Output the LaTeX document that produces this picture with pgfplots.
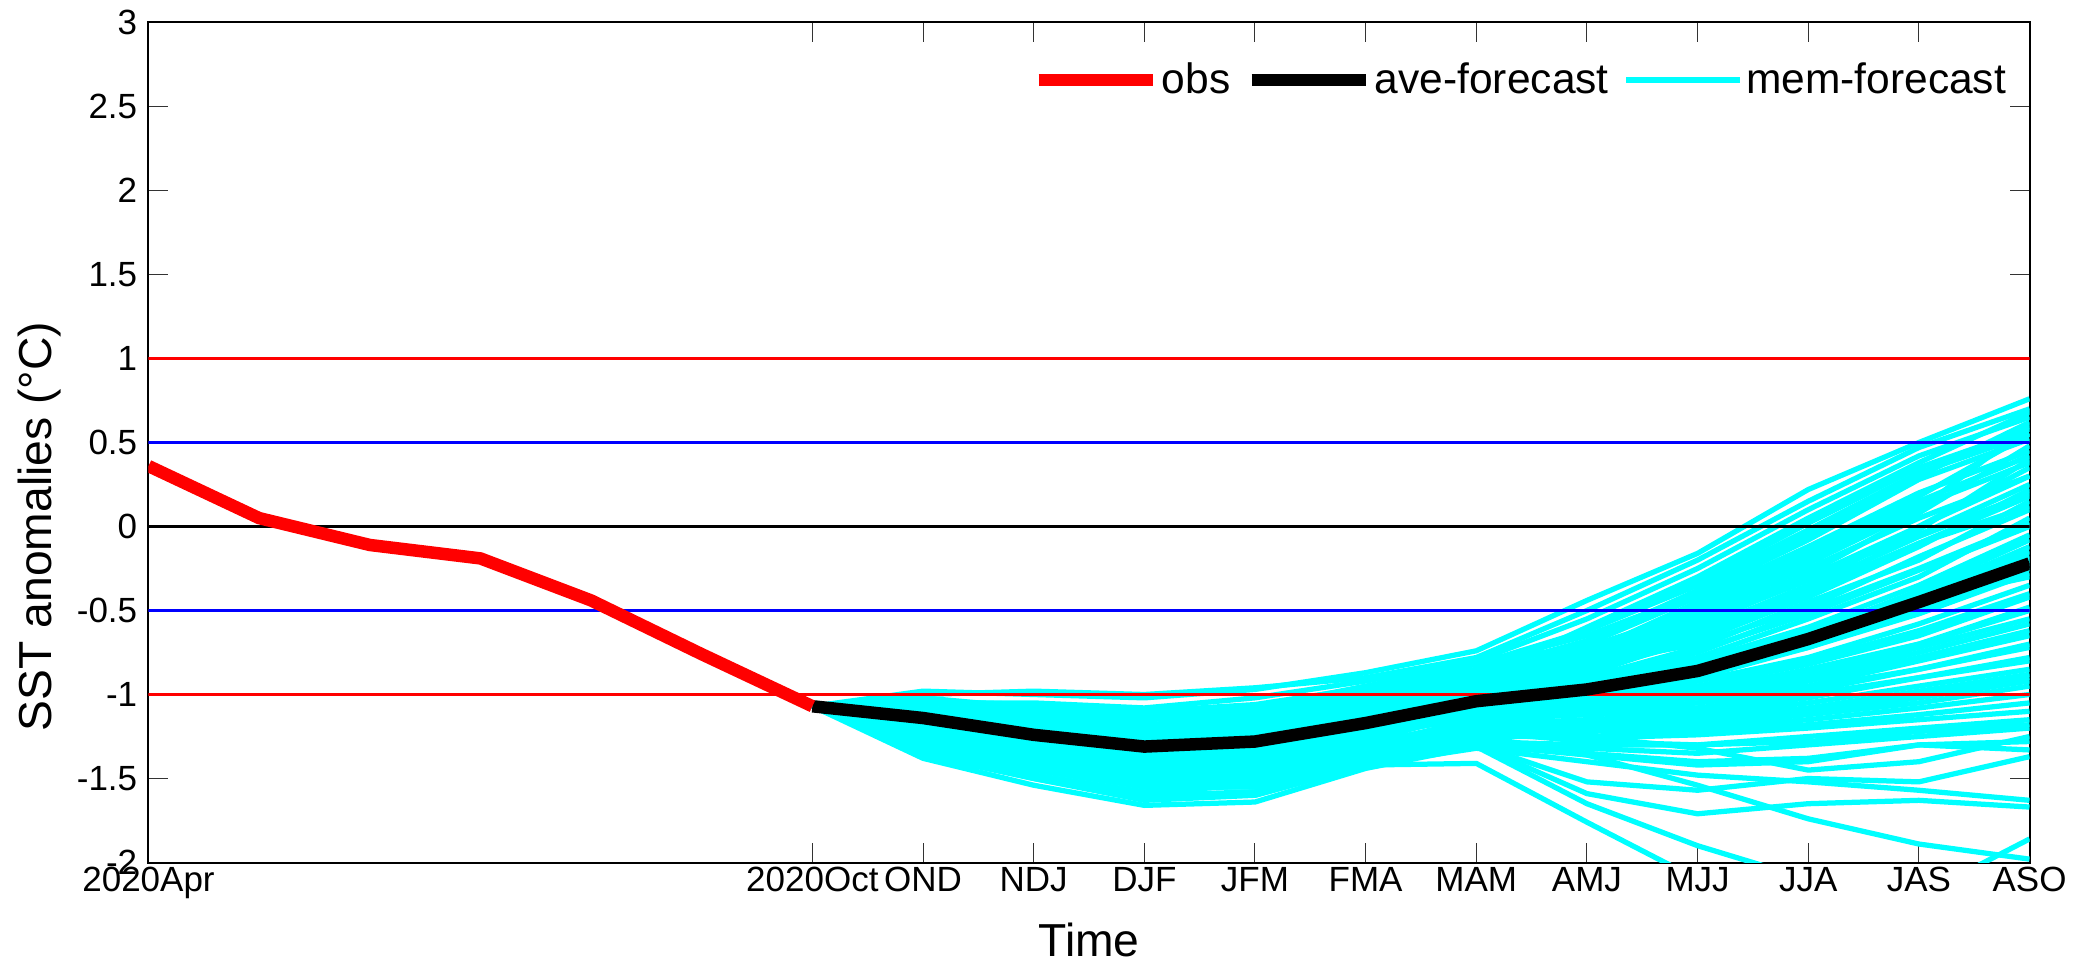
\documentclass[border=0pt]{standalone}
\usepackage{fontspec}
\setmainfont{Liberation Sans}
\usepackage{pgfplots}
\usepackage{pgfplotstable}
\pgfplotsset{compat=1.18}
\definecolor{memc}{RGB}{0,255,255}

% one row per ensemble member, steps 2020Oct .. ASO
\pgfplotstableread{
id v6 v7 v8 v9 v10 v11 v12 v13 v14 v15 v16 v17
m1 -1.07 -0.98 -1.00 -1.02 -0.97 -0.87 -0.74 -0.44 -0.16 0.22 0.50 0.76
m2 -1.07 -1.00 -0.98 -1.00 -0.96 -0.90 -0.78 -0.50 -0.20 0.15 0.47 0.70
m3 -1.07 -1.05 -1.05 -1.08 -1.02 -0.92 -0.80 -0.55 -0.25 0.10 0.42 0.65
m4 -1.07 -1.10 -1.12 -1.15 -1.10 -0.98 -0.85 -0.62 -0.33 0.02 0.35 0.58
m5 -1.07 -1.02 -1.08 -1.12 -1.08 -0.95 -0.82 -0.65 -0.40 -0.08 0.28 0.52
m6 -1.07 -1.12 -1.20 -1.25 -1.20 -1.05 -0.90 -0.70 -0.42 -0.12 0.20 0.45
m7 -1.07 -1.08 -1.15 -1.20 -1.18 -1.02 -0.88 -0.72 -0.50 -0.20 0.12 0.38
m8 -1.07 -1.15 -1.25 -1.30 -1.28 -1.12 -0.95 -0.78 -0.52 -0.25 0.05 0.30
m9 -1.07 -1.05 -1.10 -1.15 -1.12 -1.00 -0.86 -0.68 -0.38 -0.05 0.30 0.62
m10 -1.07 -1.10 -1.15 -1.22 -1.15 -1.02 -0.90 -0.60 -0.30 0.05 0.38 0.68
m11 -1.07 -1.15 -1.22 -1.28 -1.22 -1.08 -0.92 -0.75 -0.45 -0.15 0.18 0.55
m12 -1.07 -1.08 -1.12 -1.18 -1.15 -1.04 -0.92 -0.80 -0.55 -0.28 0.08 0.48
m13 -1.07 -1.20 -1.28 -1.35 -1.30 -1.15 -0.98 -0.82 -0.58 -0.32 -0.02 0.40
m14 -1.07 -1.12 -1.18 -1.22 -1.20 -1.10 -0.96 -0.85 -0.62 -0.35 0.00 0.35
m15 -1.07 -1.05 -1.10 -1.12 -1.10 -1.00 -0.88 -0.76 -0.50 -0.22 0.10 0.60
m16 -1.07 -1.12 -1.22 -1.30 -1.25 -1.10 -0.98 -0.85 -0.60 -0.30 -0.05 0.25
m17 -1.07 -1.18 -1.28 -1.35 -1.30 -1.15 -1.00 -0.88 -0.65 -0.38 -0.10 0.18
m18 -1.07 -1.10 -1.18 -1.28 -1.22 -1.08 -0.95 -0.82 -0.70 -0.48 -0.18 0.10
m19 -1.07 -1.20 -1.30 -1.38 -1.35 -1.20 -1.05 -0.92 -0.75 -0.50 -0.25 0.02
m20 -1.07 -1.15 -1.25 -1.32 -1.30 -1.15 -1.02 -0.95 -0.80 -0.60 -0.35 -0.05
m21 -1.07 -1.22 -1.35 -1.42 -1.40 -1.25 -1.08 -0.98 -0.82 -0.62 -0.40 -0.12
m22 -1.07 -1.10 -1.20 -1.25 -1.22 -1.12 -1.02 -0.96 -0.85 -0.70 -0.48 -0.20
m23 -1.07 -1.25 -1.38 -1.48 -1.45 -1.28 -1.10 -1.00 -0.90 -0.72 -0.52 -0.28
m24 -1.07 -1.18 -1.28 -1.36 -1.32 -1.20 -1.08 -1.02 -0.92 -0.78 -0.58 -0.35
m25 -1.07 -1.12 -1.22 -1.30 -1.28 -1.18 -1.05 -1.00 -0.95 -0.82 -0.65 -0.42
m26 -1.07 -1.28 -1.42 -1.52 -1.50 -1.32 -1.15 -1.05 -0.98 -0.85 -0.70 -0.50
m27 -1.07 -1.20 -1.32 -1.40 -1.38 -1.25 -1.12 -1.08 -1.00 -0.90 -0.75 -0.58
m28 -1.07 -1.16 -1.26 -1.34 -1.30 -1.18 -1.04 -0.93 -0.78 -0.55 -0.30 0.05
m29 -1.07 -1.22 -1.32 -1.40 -1.36 -1.22 -1.06 -0.96 -0.84 -0.66 -0.42 -0.15
m30 -1.07 -1.14 -1.24 -1.30 -1.28 -1.16 -1.03 -0.97 -0.88 -0.72 -0.50 -0.25
m31 -1.07 -1.10 -1.16 -1.22 -1.20 -1.12 -1.00 -0.90 -0.72 -0.45 -0.20 0.15
m32 -1.07 -1.18 -1.26 -1.32 -1.30 -1.20 -1.08 -1.00 -0.86 -0.64 -0.38 -0.08
m33 -1.07 -1.15 -1.25 -1.35 -1.32 -1.22 -1.10 -1.05 -1.02 -0.95 -0.80 -0.65
m34 -1.07 -1.30 -1.45 -1.55 -1.55 -1.38 -1.18 -1.10 -1.05 -0.98 -0.85 -0.72
m35 -1.07 -1.22 -1.35 -1.45 -1.42 -1.30 -1.15 -1.12 -1.10 -1.02 -0.90 -0.78
m36 -1.07 -1.18 -1.30 -1.40 -1.38 -1.28 -1.18 -1.15 -1.12 -1.05 -0.95 -0.85
m37 -1.07 -1.25 -1.40 -1.50 -1.48 -1.35 -1.20 -1.18 -1.15 -1.10 -1.00 -0.90
m38 -1.07 -1.32 -1.48 -1.58 -1.60 -1.42 -1.25 -1.20 -1.18 -1.12 -1.05 -0.95
m39 -1.07 -1.20 -1.32 -1.42 -1.40 -1.30 -1.20 -1.22 -1.20 -1.15 -1.08 -1.00
m40 -1.07 -1.28 -1.42 -1.52 -1.50 -1.38 -1.25 -1.25 -1.22 -1.18 -1.12 -1.05
m41 -1.07 -1.25 -1.38 -1.48 -1.45 -1.32 -1.22 -1.28 -1.30 -1.25 -1.20 -1.15
m42 -1.07 -1.35 -1.50 -1.62 -1.58 -1.40 -1.28 -1.32 -1.35 -1.30 -1.25 -1.20
m43 -1.07 -1.22 -1.35 -1.45 -1.42 -1.30 -1.25 -1.35 -1.40 -1.38 -1.30 -1.28
m44 -1.07 -1.20 -1.32 -1.42 -1.40 -1.32 -1.30 -1.52 -1.57 -1.50 -1.52 -1.37
m45 -1.07 -1.28 -1.42 -1.55 -1.52 -1.38 -1.28 -1.36 -1.42 -1.40 -1.30 -1.33
m46 -1.07 -1.30 -1.45 -1.55 -1.55 -1.42 -1.32 -1.40 -1.48 -1.52 -1.57 -1.63
m47 -1.07 -1.32 -1.48 -1.60 -1.58 -1.42 -1.30 -1.59 -1.71 -1.65 -1.63 -1.67
m48 -1.07 -1.25 -1.40 -1.52 -1.50 -1.36 -1.30 -1.36 -1.54 -1.74 -1.89 -1.98
m49 -1.07 -1.38 -1.54 -1.66 -1.64 -1.44 -1.31 -1.65 -1.90 -2.10 -2.25 -2.30
m50 -1.07 -1.36 -1.50 -1.63 -1.60 -1.42 -1.41 -1.76 -2.10 -2.30 -2.20 -1.86
m51 -1.07 -1.18 -1.30 -1.38 -1.36 -1.28 -1.20 -1.25 -1.32 -1.45 -1.40 -1.25
m52 -1.07 -1.12 -1.20 -1.26 -1.24 -1.12 -0.98 -0.86 -0.68 -0.42 -0.12 0.22
m53 -1.07 -1.16 -1.24 -1.30 -1.27 -1.14 -1.00 -0.90 -0.74 -0.52 -0.26 0.00
m54 -1.07 -1.20 -1.30 -1.38 -1.34 -1.20 -1.06 -0.98 -0.86 -0.68 -0.46 -0.22
m55 -1.07 -1.14 -1.22 -1.28 -1.25 -1.15 -1.04 -1.00 -0.92 -0.80 -0.62 -0.40
m56 -1.07 -1.24 -1.36 -1.44 -1.40 -1.26 -1.12 -1.08 -1.02 -0.92 -0.78 -0.62
m57 -1.07 -1.18 -1.28 -1.36 -1.34 -1.24 -1.14 -1.12 -1.08 -1.00 -0.90 -0.80
m58 -1.07 -1.26 -1.40 -1.50 -1.46 -1.34 -1.22 -1.20 -1.16 -1.10 -1.02 -0.92
m59 -1.07 -1.10 -1.15 -1.20 -1.18 -1.08 -0.94 -0.78 -0.56 -0.30 0.00 0.30
m60 -1.07 -1.04 -1.06 -1.10 -1.06 -0.96 -0.82 -0.62 -0.35 -0.02 0.32 0.55
m61 -1.07 -1.14 -1.22 -1.30 -1.26 -1.14 -1.02 -0.88 -0.66 -0.40 -0.10 0.12
m62 -1.07 -1.22 -1.34 -1.42 -1.38 -1.24 -1.10 -1.04 -0.96 -0.86 -0.70 -0.48
m63 -1.07 -1.30 -1.44 -1.54 -1.50 -1.36 -1.24 -1.26 -1.24 -1.20 -1.15 -1.10
m64 -1.07 -1.16 -1.26 -1.34 -1.32 -1.22 -1.12 -1.10 -1.05 -0.96 -0.85 -0.70
m65 -1.07 -1.12 -1.18 -1.24 -1.22 -1.12 -1.00 -0.92 -0.80 -0.62 -0.40 -0.18
m66 -1.07 -1.08 -1.14 -1.18 -1.14 -1.04 -0.92 -0.74 -0.48 -0.18 0.15 0.42
m67 -1.07 -1.26 -1.38 -1.46 -1.44 -1.30 -1.18 -1.16 -1.14 -1.08 -0.98 -0.88
m68 -1.07 -1.20 -1.28 -1.34 -1.32 -1.22 -1.10 -1.06 -0.98 -0.88 -0.72 -0.55
m69 -1.07 -1.34 -1.48 -1.58 -1.54 -1.40 -1.28 -1.30 -1.30 -1.28 -1.22 -1.18
m70 -1.07 -1.18 -1.26 -1.32 -1.28 -1.16 -1.04 -0.96 -0.82 -0.64 -0.44 -0.30
m71 -1.07 -1.10 -1.14 -1.18 -1.16 -1.08 -0.96 -0.84 -0.64 -0.36 -0.06 0.20
}\memrows
\pgfplotstabletranspose[colnames from=id]\members\memrows

\begin{document}
\begin{tikzpicture}
\useasboundingbox (-59.4pt,-40.4pt) rectangle (772.2pt,345pt);
\begin{axis}[
  at={(0,0)}, anchor=south west,
  scale only axis, width=752.4pt, height=336pt,
  xmin=0, xmax=17, ymin=-2, ymax=3,
  xtick={0,6,7,8,9,10,11,12,13,14,15,16,17},
  xticklabels={2020Apr,2020Oct,OND,NDJ,DJF,JFM,FMA,MAM,AMJ,MJJ,JJA,JAS,ASO},
  ytick={-2,-1.5,...,3},
  yticklabels={-2,-1.5,-1,-0.5,0,0.5,1,1.5,2,2.5,3},
  tick align=inside, major tick length=8pt,
  major tick style={line width=0.4pt, black!80},
  axis line style={line width=0.8pt},
  tick label style={font=\fontsize{14}{16}\selectfont},
  xticklabel style={anchor=base, yshift=-11.6pt},
  yticklabel style={anchor=east, xshift=-1pt},
  xlabel={Time}, ylabel={SST anomalies (°C)},
  label style={font=\fontsize{18.5}{22}\selectfont},
  xlabel style={at={(rel axis cs:0.5,0)}, anchor=center, yshift=-31pt},
  ylabel style={at={(rel axis cs:0,0.4)}, anchor=center, rotate=0, yshift=43.4pt},
  legend style={at={(rel axis cs:1,1)}, anchor=north east, xshift=-8pt, yshift=-14.6pt,
    draw=none, fill=none, inner sep=0pt, font=\fontsize{17}{20}\selectfont,
    nodes={inner sep=1.2pt},
    /tikz/every even column/.append style={column sep=4.8pt}},
  legend columns=3,
  legend image code/.code={\draw[#1] (0pt,0pt) -- (45.6pt,0pt);},
]
\addlegendimage{red, line width=5pt}
\addlegendentry{obs}
\addlegendimage{black, line width=5pt}
\addlegendentry{ave-forecast}
\addlegendimage{memc, line width=2.2pt}
\addlegendentry{mem-forecast}

\pgfplotsinvokeforeach{1,...,71}{
  \addplot[memc, line width=2.1pt, line join=round, forget plot]
    table[x expr=\coordindex+6, y=m#1] {\members};
}

\addplot[red, line width=0.9pt, forget plot] coordinates {(0,1) (17,1)};
\addplot[red, line width=0.9pt, forget plot] coordinates {(0,-1) (17,-1)};
\addplot[blue, line width=0.9pt, forget plot] coordinates {(0,0.5) (17,0.5)};
\addplot[blue, line width=0.9pt, forget plot] coordinates {(0,-0.5) (17,-0.5)};
\addplot[black, line width=0.9pt, forget plot] coordinates {(0,0) (17,0)};

\addplot[black, line width=5pt, line join=round, forget plot] coordinates {
  (6,-1.07) (7,-1.14) (8,-1.24) (9,-1.31) (10,-1.28) (11,-1.17)
  (12,-1.04) (13,-0.97) (14,-0.86) (15,-0.67) (16,-0.45) (17,-0.22)};
\addplot[red, line width=5pt, line join=round, forget plot] coordinates {
  (0,0.36) (1,0.05) (2,-0.11) (3,-0.19) (4,-0.44) (5,-0.76) (6,-1.07)};
\end{axis}
\end{tikzpicture}
\end{document}
